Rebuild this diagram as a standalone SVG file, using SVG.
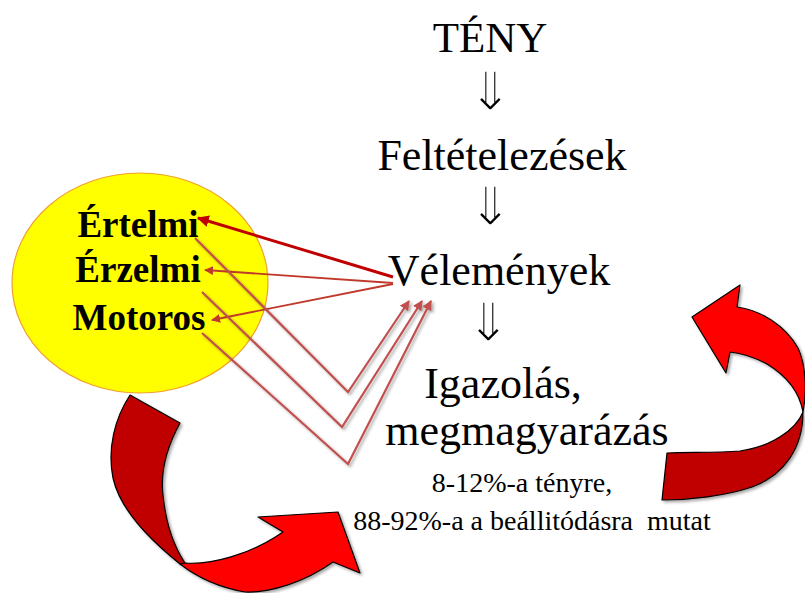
<svg xmlns="http://www.w3.org/2000/svg" width="805" height="593" viewBox="0 0 805 593">
<style>
.t{font-family:"Liberation Serif","Times New Roman","DejaVu Serif",serif;fill:#000;text-anchor:middle}
.big{font-size:44px}
.small{font-size:28px}
.b{font-family:"Liberation Serif","Times New Roman",serif;font-weight:bold;font-size:37px;text-anchor:middle;fill:#000}
.dar{font-family:"DejaVu Sans",sans-serif;font-size:54px;text-anchor:middle;fill:#000;stroke:#fff;stroke-width:2;paint-order:fill}
.vl{fill:none;stroke:#c0504d;stroke-width:2.2;marker-end:url(#mv)}
.dk{fill:#c00000;stroke:#000;stroke-width:1.2;stroke-linejoin:round}
.br{fill:#ff0000;stroke:#000;stroke-width:1.2;stroke-linejoin:round}
</style>
<defs>
<marker id="mr" viewBox="0 0 10 10" refX="9" refY="5" markerWidth="4" markerHeight="4" orient="auto" markerUnits="strokeWidth"><path d="M0,0 L10,5 L0,10 z" fill="#c00000"/></marker>
<marker id="mr2" viewBox="0 0 10 10" refX="9" refY="5" markerWidth="5" markerHeight="5" orient="auto" markerUnits="strokeWidth"><path d="M0,0 L10,5 L0,10 z" fill="#c0392b"/></marker>
<marker id="mv" viewBox="0 0 10 10" refX="9" refY="5" markerWidth="4.5" markerHeight="4.5" orient="auto" markerUnits="strokeWidth"><path d="M0,0 L10,5 L0,10 z" fill="#c0504d"/></marker>
<filter id="sh" x="-10%" y="-10%" width="130%" height="130%"><feGaussianBlur in="SourceAlpha" stdDeviation="1.5"/><feOffset dx="1.5" dy="1.5"/><feComponentTransfer><feFuncA type="linear" slope="0.35"/></feComponentTransfer><feMerge><feMergeNode/><feMergeNode in="SourceGraphic"/></feMerge></filter>
</defs>
<rect width="805" height="593" fill="#fff"/>

<g id="attitude">
<ellipse cx="140" cy="283" rx="128" ry="110" fill="#ffff00" stroke="#f0a030" stroke-width="1.2"/>
<text class="b" x="138" y="237">Értelmi</text>
<text class="b" x="138" y="282">Érzelmi</text>
<text class="b" x="139" y="330">Motoros</text>
</g>

<g id="teny"><text class="t" font-size="43" x="490" y="52">TÉNY</text></g>
<g id="d1"><text class="dar" x="490" y="110">⇓</text></g>
<g id="feltetelezesek"><text class="t big" x="502" y="170">Feltételezések</text></g>
<g id="d2"><text class="dar" x="490" y="225">⇓</text></g>
<g id="velemenyek"><text class="t big" x="499" y="285">Vélemények</text></g>
<g id="d3"><text class="dar" x="488" y="341">⇓</text></g>
<g id="igazolas">
<text class="t big" x="503" y="398">Igazolás,</text>
<text class="t big" x="527" y="445">megmagyarázás</text>
<text class="t small" x="522" y="492">8-12%-a tényre,</text>
<text class="t small" x="532" y="530" xml:space="preserve">88-92%-a a beállitódásra  mutat</text>
</g>

<g id="connectors">
<line x1="393" y1="277" x2="198" y2="218" stroke="#c00000" stroke-width="3" marker-end="url(#mr)"/>
<line x1="393" y1="283" x2="205" y2="270" stroke="#c0392b" stroke-width="1.8" marker-end="url(#mr2)"/>
<line x1="393" y1="284" x2="212" y2="320" stroke="#c0392b" stroke-width="1.8" marker-end="url(#mr2)"/>
<g filter="url(#sh)">
<polyline class="vl" points="195,238 348,392 409,301"/>
<polyline class="vl" points="202,292 342,427 422,301"/>
<polyline class="vl" points="202,333 348,464 431,301"/>
</g>
</g>

<g id="arrow-left" filter="url(#sh)">
<path class="dk" d="M130,395 L180,423 C168,445 160,470 163,495 C166,525 175,548 185,563 L180,564 C150,540 120,510 113,478 C107,448 115,418 130,395 Z"/>
<path class="br" d="M180,564 L185,563 C210,565 250,555 283,532 L258,517 L338,512 L360,573 L333,562 C305,582 270,593 245,592 C222,588 198,578 180,564 Z"/>
</g>

<g id="arrow-right" filter="url(#sh)">
<path class="br" d="M803,412 C800,395 790,378 767,364 C752,356 740,353 730,352 L726,373 L692,317 L740,285 L737,307 C760,310 785,325 798,348 C806,365 807,392 803,412 Z"/>
<path class="dk" d="M803,412 C796,430 770,447 740,451 C715,453 690,452 667,453 L662,500 C690,500 725,496 752,487 C785,475 803,447 803,412 Z"/>
</g>
</svg>
